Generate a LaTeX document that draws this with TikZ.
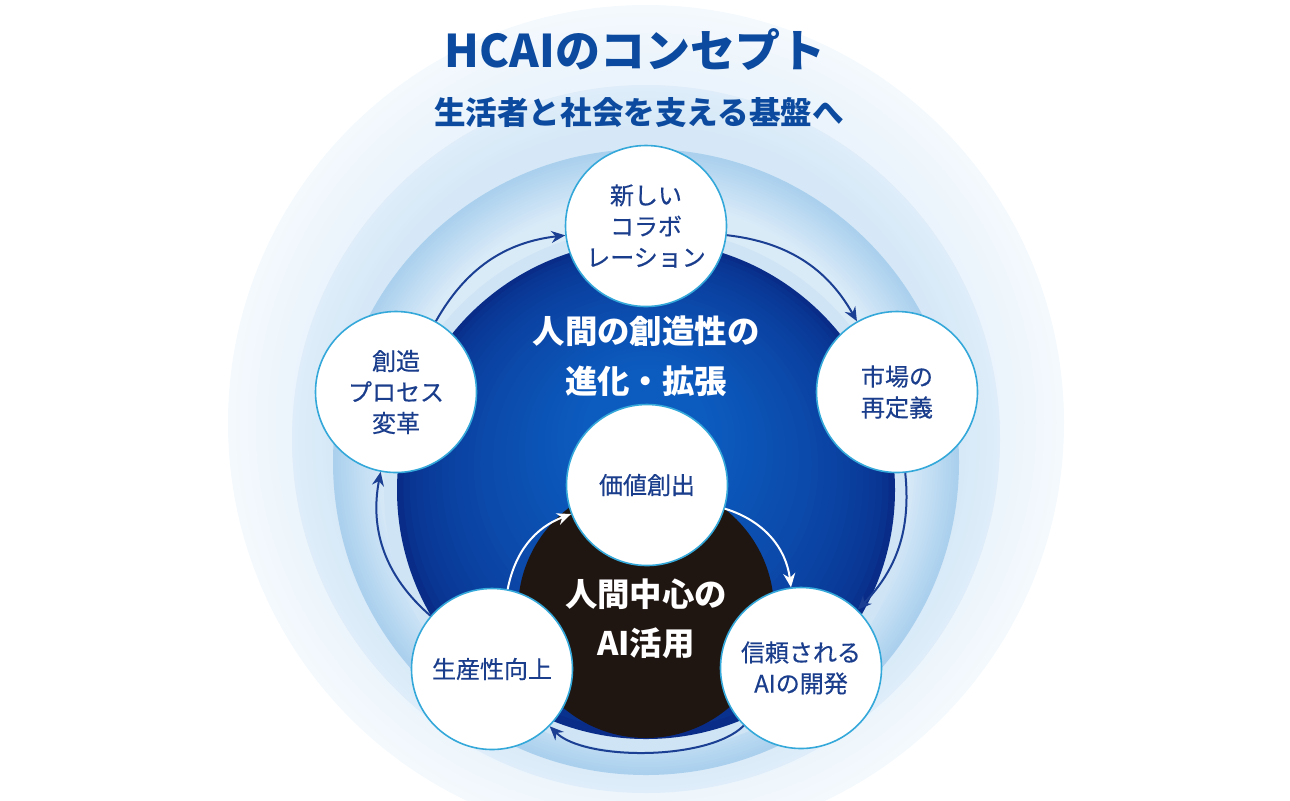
\documentclass[tikz,border=0pt]{standalone}
\usepackage{fontspec}
\setmainfont{Noto Sans CJK JP}
\newfontfamily\ideafont{Noto Sans CJK JP}[FakeBold=0.4]
\usetikzlibrary{arrows.meta}
\definecolor{cTitle}{HTML}{0B4A9E}
\definecolor{cText}{HTML}{1A3D8C}
\definecolor{cArrow}{HTML}{1B3F93}
\definecolor{cEdge}{HTML}{35A8DA}
\definecolor{cCore}{HTML}{1F1511}
\definecolor{cBand}{HTML}{CFE4F5}
\definecolor{cDeepIn}{HTML}{0C5CC0}
\definecolor{cDeepOut}{HTML}{092C88}
\definecolor{cOuterIn}{HTML}{EBF4FC}
\definecolor{cOuterOut}{HTML}{F4F9FD}
\definecolor{cMidIn}{HTML}{D6E8F7}
\definecolor{cMidOut}{HTML}{DEEDF9}
\definecolor{cNearIn}{HTML}{DAEBF8}
\definecolor{cNearOut}{HTML}{AAD0EE}
\tikzset{
  idea/.style={circle, draw=cEdge, line width=0.8pt, fill=white, minimum size=80.5pt,
    inner sep=0pt, align=center, text=cText, font=\ideafont\fontsize{12}{15.5}\selectfont},
  headline/.style={align=center, text=white, font=\fontsize{16.2}{25}\selectfont\bfseries},
  ringflow/.style={-{Stealth[length=7pt,width=6pt]}, line width=1pt, draw=cArrow},
  coreflow/.style={ringflow, draw=white},
}
\begin{document}
\begin{tikzpicture}[x=0.5pt,y=-0.5pt]
  \useasboundingbox (0,0) rectangle (1290,800);
  % backdrop rings, painted outside in
  \foreach \k in {0,...,16}{
    \pgfmathsetmacro\rr{209-\k*2}
    \pgfmathsetmacro\mix{\k*100/16}
    \fill[cOuterIn!\mix!cOuterOut] (646,423) circle[radius=\rr pt];
  }
  \foreach \k in {0,...,12}{
    \pgfmathsetmacro\rr{177-\k*1.7}
    \pgfmathsetmacro\mix{\k*100/12}
    \fill[cMidIn!\mix!cMidOut] (646,439) circle[radius=\rr pt];
  }
  \foreach \k in {0,...,20}{
    \pgfmathsetmacro\rr{156.5-\k*1.3}
    \pgfmathsetmacro\mix{\k*5}
    \fill[cNearIn!\mix!cNearOut] (646,462) circle[radius=\rr pt];
  }
  \fill[cBand] (646,490) circle[radius=131pt];
  % deep blue disk, brighter towards the upper middle
  \foreach \k in {0,...,30}{
    \pgfmathsetmacro\rr{124.5-\k*3.2}
    \pgfmathsetmacro\cy{490-\k*2}
    \pgfmathsetmacro\mix{100*(\k/30)^0.6}
    \fill[cDeepIn!\mix!cDeepOut] (646,\cy) circle[radius=\rr pt];
  }
  \fill[cCore] (646,610) circle[radius=64pt];
  % heading
  \node[text=cTitle, font=\fontsize{22.5}{27}\selectfont\bfseries] (title) at (635,50) {HCAIのコンセプト};
  \node[text=cTitle, font=\fontsize{15.8}{20}\selectfont\bfseries] (subtitle) at (639,112) {生活者と社会を支える基盤へ};
  % centre labels
  \node[headline] (creative) at (646,356) {人間の創造性の\\進化・拡張};
  \node[headline, font=\fontsize{16.2}{24.5}\selectfont\bfseries] (humanai) at (646,619) {人間中心の\\AI活用};
  % outer cycle
  \node[idea] (collab) at (646,226) {新しい\\コラボ\\レーション};
  \node[idea] (market) at (897,392) {市場の\\再定義};
  \node[idea] (trust) at (801,668) {信頼される\\AIの開発};
  \node[idea] (prod) at (492,669) {生産性向上};
  \node[idea] (process) at (396,392) {創造\\プロセス\\変革};
  \node[idea] (value) at (647,485) {価値創出};
  \draw[ringflow] (process) to[bend left=27] (collab);
  \draw[ringflow] (collab) to[bend left=27] (market);
  \draw[ringflow] (market) to[bend left=25] (trust);
  \draw[ringflow] (trust) to[bend left=45, looseness=0.65] (prod);
  \draw[ringflow] (prod) to[bend left=30] (process);
  % inner cycle
  \draw[coreflow] (prod) to[bend left=29] (value);
  \draw[coreflow] (value) to[bend left=33] (trust);
\end{tikzpicture}
\end{document}
